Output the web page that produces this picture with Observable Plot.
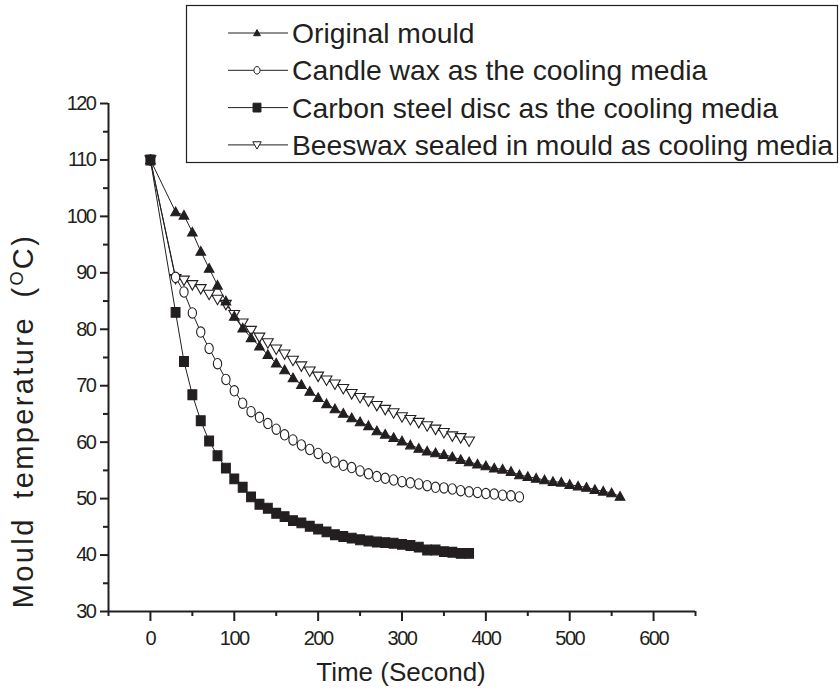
<!DOCTYPE html>
<html>
<head>
<meta charset="utf-8">
<script src="https://cdn.jsdelivr.net/npm/d3@7"></script>
<script src="https://cdn.jsdelivr.net/npm/@observablehq/plot@0.6"></script>
<style>
  html, body { margin: 0; padding: 0; background: #fff; }
  #chart { width: 840px; height: 695px; }
  svg { font-family: "Liberation Sans", Arial, Helvetica, sans-serif; }
  g[aria-label="x-axis tick label"] text, g[aria-label="y-axis tick label"] text { letter-spacing: -1.5px; }
</style>
</head>
<body>
<div id="chart"></div>
<script>
// ---- data ----
const timeS = [0, 30, 40, 50, 60, 70, 80, 90, 100, 110, 120, 130, 140, 150, 160, 170, 180, 190, 200,
  210, 220, 230, 240, 250, 260, 270, 280, 290, 300, 310, 320, 330, 340, 350, 360, 370, 380, 390, 400,
  410, 420, 430, 440, 450, 460, 470, 480, 490, 500, 510, 520, 530, 540, 550, 560];

const seriesNames = [
  "Original mould",
  "Candle wax as the cooling media",
  "Carbon steel disc as the cooling media",
  "Beeswax sealed in mould as cooling media"
];

const originalMould = [110, 100.8, 100.2, 97.2, 93.8, 90.8, 87.8, 85.0, 82.3, 80.2, 78.5, 77.0, 75.5, 74.0,
  72.8, 71.4, 70.2, 69.0, 67.9, 66.8, 65.9, 65.1, 64.3, 63.6, 62.9, 62.0, 61.4, 60.8, 60.2, 59.5, 58.9,
  58.4, 58.1, 57.8, 57.4, 56.9, 56.5, 56.1, 55.8, 55.4, 55.2, 54.8, 54.2, 53.9, 53.6, 53.3, 53.0, 52.9,
  52.5, 52.2, 52.0, 51.6, 51.3, 51.0, 50.4];

const candleWax = [110, 89.2, 86.6, 82.9, 79.5, 76.6, 73.9, 71.1, 69.1, 66.9, 65.4, 64.4, 63.3, 62.3, 61.3,
  60.4, 59.5, 58.7, 58.0, 57.2, 56.5, 55.9, 55.5, 54.9, 54.4, 53.9, 53.6, 53.3, 53.0, 52.8, 52.6, 52.3,
  52.0, 51.9, 51.7, 51.4, 51.2, 51.1, 50.9, 50.8, 50.6, 50.5, 50.3];

const carbonSteel = [110, 83.0, 74.3, 68.4, 63.8, 60.2, 57.6, 55.4, 53.5, 52.0, 50.3, 49.0, 48.3, 47.4, 46.8,
  46.1, 45.7, 45.1, 44.6, 44.1, 43.6, 43.3, 43.0, 42.7, 42.5, 42.3, 42.2, 42.1, 41.9, 41.7, 41.4, 40.9,
  40.9, 40.6, 40.5, 40.3, 40.3];

const beeswax = [110, 89.0, 88.7, 87.9, 87.2, 86.2, 85.3, 84.4, 82.6, 81.1, 79.8, 78.6, 77.6, 76.5, 75.6,
  74.5, 73.5, 72.6, 71.7, 71.0, 70.3, 69.5, 68.6, 67.9, 67.3, 66.5, 65.8, 65.2, 64.5, 64.0, 63.5, 62.9,
  62.3, 61.7, 61.1, 60.8, 60.2];

const xMajorTicks = [0, 100, 200, 300, 400, 500, 600];
const xMinorTicks = [-50, 50, 150, 250, 350, 450, 550, 650];
const yMajorTicks = [30, 40, 50, 60, 70, 80, 90, 100, 110, 120];
const yMinorTicks = [35, 45, 55, 65, 75, 85, 95, 105, 115];

// ---- marker shapes ----
const INK = "#231f20";
const triUp = { draw(ctx, size) { const r = Math.sqrt(size / Math.PI);
  ctx.moveTo(0, -r); ctx.lineTo(r, r * 0.8); ctx.lineTo(-r, r * 0.8); ctx.closePath(); } };
const triDown = { draw(ctx, size) { const r = Math.sqrt(size / Math.PI);
  ctx.moveTo(-r, -r * 0.75); ctx.lineTo(r, -r * 0.75); ctx.lineTo(0, r); ctx.closePath(); } };
const ellipse = { draw(ctx, size) { const r = Math.sqrt(size / Math.PI);
  const rx = r * 0.8, ry = r, k = 0.5523;
  ctx.moveTo(rx, 0);
  ctx.bezierCurveTo(rx, ry * k, rx * k, ry, 0, ry);
  ctx.bezierCurveTo(-rx * k, ry, -rx, ry * k, -rx, 0);
  ctx.bezierCurveTo(-rx, -ry * k, -rx * k, -ry, 0, -ry);
  ctx.bezierCurveTo(rx * k, -ry, rx, -ry * k, rx, 0);
  ctx.closePath(); } };
const square = { draw(ctx, size) { const r = Math.sqrt(size / Math.PI);
  ctx.rect(-r * 0.9, -r, r * 1.8, r * 2); } };

const seriesDefs = [
  { name: seriesNames[3], values: beeswax, symbol: triDown, r: 5.4, fill: "white" },
  { name: seriesNames[1], values: candleWax, symbol: ellipse, r: 5.2, fill: "white" },
  { name: seriesNames[0], values: originalMould, symbol: triUp, r: 4.8, fill: INK },
  { name: seriesNames[2], values: carbonSteel, symbol: square, r: 4.9, fill: INK }
];

const rows = seriesDefs.flatMap(s => s.values.map((v, i) => ({ series: s.name, t: timeS[i], v })));

const plot = Plot.plot({
  width: 840,
  height: 695,
  marginLeft: 108,
  marginRight: 145,
  marginTop: 103,
  marginBottom: 84,
  style: { fontFamily: '"Liberation Sans", Arial, sans-serif', color: INK, background: "white" },
  x: { domain: [-50, 650], label: null },
  y: { domain: [30, 120], label: null },
  marks: [
    Plot.axisX(xMinorTicks, { tickSize: 5, strokeWidth: 2, fill: "none", label: null }),
    Plot.axisX(xMajorTicks, { tickSize: 10, tickPadding: 9, strokeWidth: 2, fontSize: 20, label: null, tickFormat: d => String(d) }),
    Plot.axisY(yMinorTicks, { tickSize: 5, strokeWidth: 2, fill: "none", label: null }),
    Plot.axisY(yMajorTicks, { tickSize: 8, tickPadding: 5, strokeWidth: 2, fontSize: 20, label: null, tickFormat: d => String(d) }),
    Plot.ruleY([30], { stroke: INK, strokeWidth: 2 }),
    Plot.ruleX([-50], { stroke: INK, strokeWidth: 2 }),
    Plot.line(rows, { x: "t", y: "v", z: "series", stroke: INK, strokeWidth: 1 }),
    ...seriesDefs.map(s => Plot.dot(rows.filter(d => d.series === s.name), {
      x: "t", y: "v", symbol: s.symbol, r: s.r, fill: s.fill, stroke: INK, strokeWidth: 1.1
    }))
  ]
});

document.getElementById("chart").appendChild(plot);

// ---- titles & legend ----
const svg = d3.select(plot);

svg.append("text")
  .attr("x", 401).attr("y", 681)
  .attr("text-anchor", "middle")
  .attr("font-size", 26)
  .attr("fill", INK)
  .text("Time (Second)");

const yt = svg.append("text")
  .attr("transform", "translate(33,421) rotate(-90)")
  .attr("text-anchor", "middle")
  .attr("font-size", 29)
  .attr("letter-spacing", "2.4px")
  .attr("word-spacing", "8px")
  .attr("fill", INK);
yt.append("tspan").text("Mould temperature (");
yt.append("tspan").attr("font-size", 18).attr("dy", -10).text("O");
yt.append("tspan").attr("dy", 10).text("C)");

const lg = svg.append("g").attr("text-anchor", "start");
lg.append("rect")
  .attr("x", 186.5).attr("y", 5.5).attr("width", 651).attr("height", 157)
  .attr("fill", "white").attr("stroke", INK).attr("stroke-width", 1.2);

const legendOrder = [
  { name: seriesNames[0], symbol: triUp, size: 3.4, fill: INK },
  { name: seriesNames[1], symbol: ellipse, size: 3.8, fill: "white" },
  { name: seriesNames[2], symbol: square, size: 4.4, fill: INK },
  { name: seriesNames[3], symbol: triDown, size: 4.2, fill: "white" }
];
legendOrder.forEach((d, i) => {
  const cy = 33 + i * 37.3;
  lg.append("line").attr("x1", 228).attr("x2", 288).attr("y1", cy).attr("y2", cy)
    .attr("stroke", INK).attr("stroke-width", 1);
  lg.append("path")
    .attr("d", d3.symbol(d.symbol, d.size * d.size * Math.PI)())
    .attr("transform", `translate(257,${cy})`)
    .attr("fill", d.fill).attr("stroke", INK).attr("stroke-width", 1);
  lg.append("text").attr("x", 292).attr("y", cy + 10)
    .attr("text-anchor", "start")
    .attr("font-size", 28.3).attr("fill", INK).text(d.name);
});
</script>
</body>
</html>
